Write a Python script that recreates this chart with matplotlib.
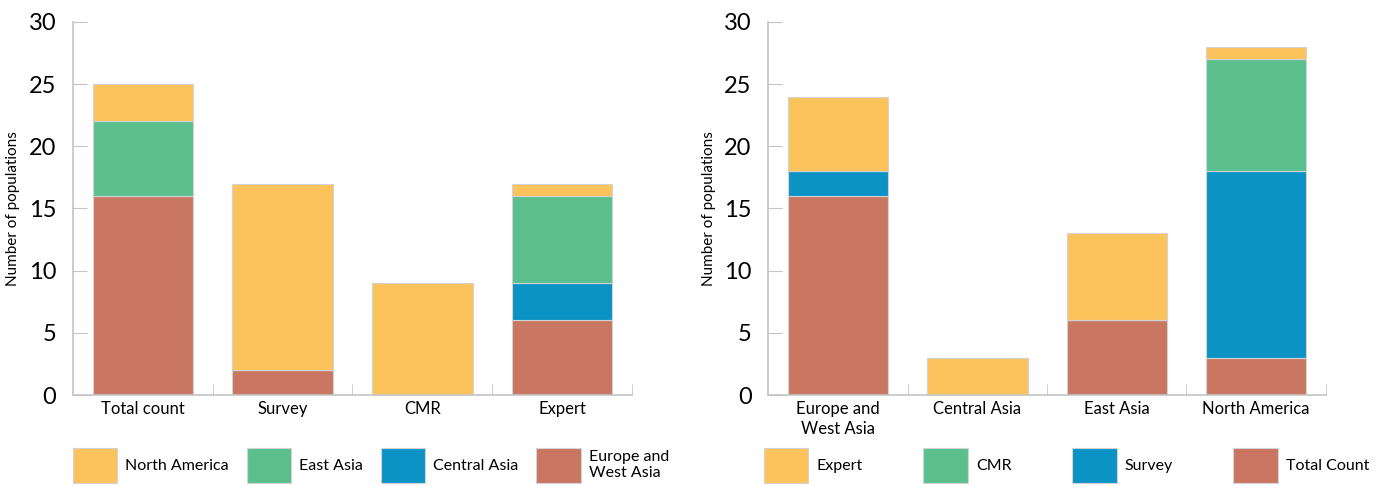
import numpy as np
import matplotlib.pyplot as plt

plt.rcParams['font.family'] = ['Lato', 'DejaVu Sans']

# left panel: data source on x, region stacks
methods = ["Total count", "Survey", "CMR", "Expert"]
europe_west_asia = [16, 2, 0, 6]
central_asia = [0, 0, 0, 3]
east_asia = [6, 0, 0, 7]
north_america = [3, 15, 9, 1]

# right panel: region on x, data source stacks
regions = ["Europe and\nWest Asia", "Central Asia", "East Asia", "North America"]
total_count = [16, 0, 6, 3]
survey = [2, 0, 0, 15]
cmr = [0, 0, 0, 9]
expert = [6, 3, 7, 1]

YELLOW = "#FCC35D"
GREEN = "#5BBF8D"
BLUE = "#0A93C4"
RED = "#C97762"
EDGE = "#d3d3d3"
AXC = "#c4c4c4"

fig = plt.figure(figsize=(13.97, 4.86), dpi=100)
ax1 = fig.add_axes([0.0523, 0.187, 0.400, 0.768])
ax2 = fig.add_axes([0.550, 0.187, 0.399, 0.768])


def stacked(ax, labels, series):
    x = np.arange(len(labels))
    bottom = np.zeros(len(labels))
    handles = []
    for name, vals, col in series:
        h = ax.bar(x, vals, bottom=bottom, width=0.72, color=col,
                   edgecolor=EDGE, linewidth=0.8, label=name)
        handles.append(h)
        bottom += np.array(vals)
    ax.set_xlim(-0.5, 3.5)
    ax.set_ylim(0, 30)
    ax.set_xticks(x)
    ax.set_xticklabels(labels, fontsize=12, linespacing=1.35)
    ax.set_xticks([0.5, 1.5, 2.5, 3.5], minor=True)
    ax.tick_params(axis='x', which='major', length=0, pad=4)
    ax.tick_params(axis='x', which='minor', direction='in', length=8, color=AXC)
    ax.set_yticks(range(0, 31, 5))
    ax.tick_params(axis='y', direction='in', length=10, color=AXC,
                   labelsize=17, pad=12)
    for s in ['top', 'right']:
        ax.spines[s].set_visible(False)
    for s in ['left', 'bottom']:
        ax.spines[s].set_color(AXC)
        ax.spines[s].set_linewidth(1.2)
    ax.set_ylabel("Number of populations", fontsize=11, labelpad=6)
    return handles


h1 = stacked(ax1, methods, [
    ("Europe and\nWest Asia", europe_west_asia, RED),
    ("Central Asia", central_asia, BLUE),
    ("East Asia", east_asia, GREEN),
    ("North America", north_america, YELLOW),
])
h2 = stacked(ax2, regions, [
    ("Total Count", total_count, RED),
    ("Survey", survey, BLUE),
    ("CMR", cmr, GREEN),
    ("Expert", expert, YELLOW),
])

leg_kw = dict(loc='upper left', ncol=4, frameon=False, fontsize=11.5,
              handlelength=2.8, handleheight=3.0, handletextpad=0.5,
              borderaxespad=0, mode='expand', labelspacing=0.2)
ax1.legend(h1[::-1], [h.get_label() for h in h1[::-1]],
           bbox_to_anchor=(-0.012, -0.225, 1.09, 0.1), **leg_kw)
ax2.legend(h2[::-1], [h.get_label() for h in h2[::-1]],
           bbox_to_anchor=(-0.02, -0.225, 1.11, 0.1), **leg_kw)

fig.savefig("out.png", dpi=100)
